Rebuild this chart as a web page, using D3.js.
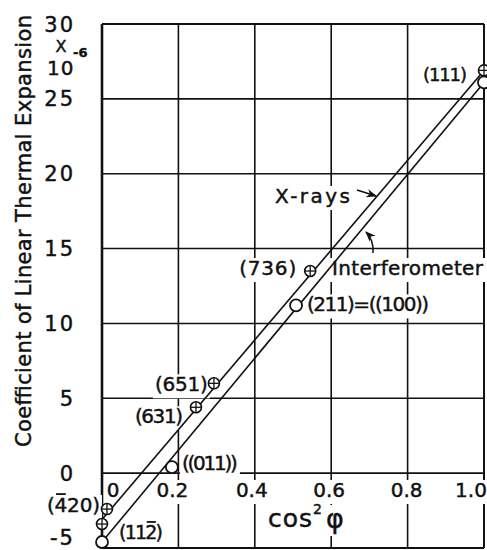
<!DOCTYPE html>
<html>
<head>
<meta charset="utf-8">
<script src="https://cdn.jsdelivr.net/npm/d3@7/dist/d3.min.js"></script>
<style>
  body { margin: 0; background: #fff; }
  text { font-family: "DejaVu Sans", sans-serif; fill: #111; stroke: #111; stroke-width: 0.45px; }
</style>
</head>
<body>
<div id="chart"></div>
<script>

// axis ticks
var xTicks = [0, 0.2, 0.4, 0.6, 0.8, 1.0];
var xTickLabels = ["0", "0.2", "0.4", "0.6", "0.8", "1.0"];
var yTicks = [-5, 0, 5, 10, 15, 20, 25, 30];

// fitted straight lines (value at cos^2 = 0 and cos^2 = 1)
var lineCos = [0, 1.0];
var xrayFit = [-3.1, 26.9];
var interFit = [-4.6, 26.1];

// x-ray points (crossed circles), \u0304 = bar over the digit before it
var xrayNames = ["(111)", "(736)", "(651)", "(631)", "(4\u030420)", "(112\u0304)"];
var xrayCos = [1.0, 0.545, 0.293, 0.246, 0.013, 0.0];
var xrayAlpha = [26.9, 13.5, 6.0, 4.4, -2.4, -3.4];

// interferometer points (open circles)
var interNames = ["", "(211)=((100))", "((011))", ""];
var interCos = [1.0, 0.508, 0.183, 0.0];
var interAlpha = [26.1, 11.2, 0.4, -4.6];

var width = 487,
    height = 550;

var svg = d3.select("#chart")
    .append("svg")
    .attr("width", width)
    .attr("height", height);

svg.append("rect").attr("width", width).attr("height", height).attr("fill", "#fff");

var xScale = d3.scaleLinear().domain([0, 1]).range([102, 484]);
var yScale = d3.scaleLinear().domain([-5, 30]).range([548, 24]);

var gridLayer = svg.append("g");
var bgLayer = svg.append("g");
var dataLayer = svg.append("g");
var textLayer = svg.append("g");

// grid
yTicks.forEach(function(v) {
  gridLayer.append("line")
    .attr("x1", xScale(0)).attr("x2", xScale(1))
    .attr("y1", yScale(v)).attr("y2", yScale(v))
    .attr("stroke", "#111").attr("stroke-width", v == 30 || v == -5 ? 2 : 1.6);
});
xTicks.forEach(function(v) {
  gridLayer.append("line")
    .attr("x1", xScale(v)).attr("x2", xScale(v))
    .attr("y1", yScale(30)).attr("y2", yScale(-5))
    .attr("stroke", "#111").attr("stroke-width", v == 0 ? 2.6 : (v == 1 ? 2 : 1.6));
});

// label with white patch behind it, so the grid breaks around it
function label(x, y, str, size, anchor, len) {
  var barAt = str.indexOf("\u0304") - 1;
  var plain = str.replace("\u0304", "");
  var t = textLayer.append("text")
    .attr("x", x).attr("y", y)
    .attr("font-size", size)
    .attr("text-anchor", anchor || "start")
    .text(plain);
  if (len) t.attr("textLength", len).attr("lengthAdjust", "spacing");
  var b = t.node().getBBox();
  bgLayer.append("rect")
    .attr("x", b.x - 2).attr("y", b.y + 2)
    .attr("width", b.width + 4).attr("height", b.height)
    .attr("fill", "#fff");
  if (barAt >= 0) {
    var c = t.node().getExtentOfChar(barAt);
    textLayer.append("line")
      .attr("x1", c.x + 1.5).attr("x2", c.x + c.width - 1.5)
      .attr("y1", y - size * 0.9).attr("y2", y - size * 0.9)
      .attr("stroke", "#111").attr("stroke-width", 1.8);
  }
  return t;
}

// y tick labels
yTicks.forEach(function(v) {
  textLayer.append("text")
    .attr("x", 75).attr("y", v == -5 ? 537 : yScale(v))
    .attr("dy", "0.36em")
    .attr("text-anchor", "end")
    .attr("font-size", 21)
    .attr("letter-spacing", 2)
    .text(v == -5 ? "-5" : v);
});

// x 10^-6 unit
textLayer.append("text").attr("x", 61).attr("y", 52).attr("font-size", 16)
  .attr("text-anchor", "middle").text("X");
textLayer.append("text").attr("x", 47).attr("y", 75).attr("font-size", 20)
  .attr("letter-spacing", 1).text("10");
textLayer.append("text").attr("x", 73).attr("y", 57).attr("font-size", 13)
  .attr("font-weight", "bold").text("-6");

// x tick labels, nudged next to their grid lines
var xShift = [11, -6, -3, -2, -1, -13];
xTicks.forEach(function(v, i) {
  label(xScale(v) + xShift[i], 497, xTickLabels[i], 20, "middle");
});

// axis titles
textLayer.append("text")
  .attr("transform", "translate(31," + 231 + ") rotate(-90)")
  .attr("text-anchor", "middle")
  .attr("font-size", 21)
  .attr("textLength", 432).attr("lengthAdjust", "spacing")
  .text("Coefficient of Linear Thermal Expansion");

label(268, 527, "cos", 25, "start", 44);
label(313, 514, "2", 14, "start");
label(326, 528, "\u03c6", 27, "start");

// fitted lines
var line = d3.line()
    .x(function(d) { return xScale(d[0]); })
    .y(function(d) { return yScale(d[1]); });

[xrayFit, interFit].forEach(function(fit) {
  dataLayer.append("path")
    .datum(lineCos.map(function(c, i) { return [c, fit[i]]; }))
    .attr("d", line)
    .attr("fill", "none")
    .attr("stroke", "#111")
    .attr("stroke-width", 1.6);
});

// point labels: anchor, offset from the marker, text length, font size
var labelPos = {
  "(111)": ["end", -17, 11, 44, 18],
  "(736)": ["end", -14, 4, 57, 20],
  "(651)": ["end", -6, 8, 53, 20],
  "(631)": ["end", -13, 16, 48, 20],
  "(4\u030420)": ["end", -7, 3, 53, 20],
  "(112\u0304)": ["start", 17, 15, 44, 19],
  "(211)=((100))": ["start", 11, 6, 122, 20],
  "((011))": ["start", 10, 3, 56, 20]
};

function pointLabel(name, cx, cy) {
  if (!name) return;
  var p = labelPos[name];
  label(cx + p[1], cy + p[2], name, p[4], p[0], p[3]);
}

// interferometer circles
interCos.forEach(function(c, i) {
  var cx = xScale(c), cy = yScale(interAlpha[i]);
  dataLayer.append("circle")
    .attr("cx", cx).attr("cy", cy).attr("r", 6)
    .attr("fill", "#fff").attr("stroke", "#111").attr("stroke-width", 1.8);
  pointLabel(interNames[i], cx, cy);
});

// x-ray crossed circles
xrayCos.forEach(function(c, i) {
  var cx = xScale(c), cy = yScale(xrayAlpha[i]), r = 5.5;
  var g = dataLayer.append("g");
  g.append("circle")
    .attr("cx", cx).attr("cy", cy).attr("r", r)
    .attr("fill", "#fff").attr("stroke", "#111").attr("stroke-width", 1.6);
  g.append("line").attr("x1", cx - r).attr("x2", cx + r).attr("y1", cy).attr("y2", cy)
    .attr("stroke", "#111").attr("stroke-width", 1.3);
  g.append("line").attr("x1", cx).attr("x2", cx).attr("y1", cy - r).attr("y2", cy + r)
    .attr("stroke", "#111").attr("stroke-width", 1.3);
  pointLabel(xrayNames[i], cx, cy);
});

// annotations
svg.append("defs").append("marker")
    .attr("id", "head")
    .attr("viewBox", "0 0 10 10")
    .attr("refX", 9).attr("refY", 5)
    .attr("markerWidth", 7).attr("markerHeight", 7)
    .attr("orient", "auto")
  .append("path")
    .attr("d", "M0,1 L10,5 L0,9 L3,5 Z")
    .attr("fill", "#111");

label(275, 203, "X-rays", 20, "start", 75);
dataLayer.append("path")
  .attr("d", "M357,190 L376,196")
  .attr("fill", "none").attr("stroke", "#111").attr("stroke-width", 1.5)
  .attr("marker-end", "url(#head)");

label(332, 275, "Interferometer", 20, "start", 151);
dataLayer.append("path")
  .attr("d", "M373,253 Q374,240 366,232")
  .attr("fill", "none").attr("stroke", "#111").attr("stroke-width", 1.5)
  .attr("marker-end", "url(#head)");

</script>
</body>
</html>
